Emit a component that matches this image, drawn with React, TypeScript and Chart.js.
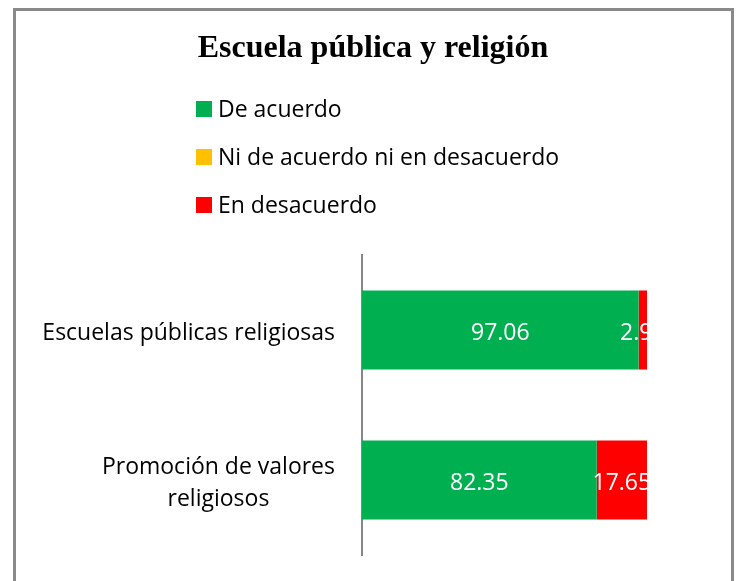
import React, { useEffect, useRef } from "react";
import { Chart, registerables } from "chart.js";

Chart.register(...registerables);

const categories: string[][] = [
  ["Escuelas públicas religiosas"],
  ["Promoción de valores", "religiosos"],
];
const seriesNames = ["De acuerdo", "Ni de acuerdo ni en desacuerdo", "En desacuerdo"];
const deAcuerdo = [97.06, 82.35];
const niDeAcuerdo = [0, 0];
const enDesacuerdo = [2.94, 17.65];
const seriesColors = ["#00B050", "#FFC000", "#FF0000"];
const titleText = "Escuela pública y religión";
const xMin = 0;
const xMax = 100;

const SANS = '"Open Sans", sans-serif';

const customLegend = {
  id: "customLegend",
  afterDraw(chart: any) {
    const ctx = chart.ctx;
    ctx.save();
    ctx.font = `23px ${SANS}`;
    ctx.textBaseline = "alphabetic";
    ctx.textAlign = "left";
    chart.data.datasets.forEach((ds: any, i: number) => {
      const baseline = 117 + i * 48;
      ctx.fillStyle = ds.backgroundColor;
      ctx.fillRect(196, baseline - 16, 16, 16);
      ctx.fillStyle = "#000";
      ctx.fillText(ds.label, 218, baseline);
    });
    ctx.restore();
  },
};

const categoryLabels = {
  id: "categoryLabels",
  afterDraw(chart: any) {
    const ctx = chart.ctx;
    const y = chart.scales.y;
    ctx.save();
    ctx.font = `23px ${SANS}`;
    ctx.fillStyle = "#000";
    ctx.textBaseline = "alphabetic";
    ctx.textAlign = "center";
    const lh = 32;
    (chart.data.labels as string[][]).forEach((lines, i) => {
      const cy = y.getPixelForValue(i);
      const blockW = Math.max(...lines.map((l) => ctx.measureText(l).width));
      const right = chart.chartArea.left - 27;
      const first = cy + 10 - ((lines.length - 1) * lh) / 2;
      lines.forEach((l, k) => ctx.fillText(l, right - blockW / 2, first + k * lh));
    });
    ctx.restore();
  },
};

const dataLabels = {
  id: "dataLabels",
  afterDatasetsDraw(chart: any) {
    const ctx = chart.ctx;
    const area = chart.chartArea;
    ctx.save();
    ctx.beginPath();
    ctx.rect(area.left, area.top, area.right - area.left, area.bottom - area.top);
    ctx.clip();
    ctx.font = `23px ${SANS}`;
    ctx.fillStyle = "#fff";
    ctx.textAlign = "center";
    ctx.textBaseline = "alphabetic";
    chart.data.datasets.forEach((ds: any, di: number) => {
      const meta = chart.getDatasetMeta(di);
      meta.data.forEach((el: any, i: number) => {
        const v = ds.data[i];
        if (!v) return;
        const cx = (el.x + el.base) / 2;
        ctx.fillText(String(v), cx, el.y + 10);
      });
    });
    ctx.restore();
  },
};

export default function App() {
  const ref = useRef<HTMLCanvasElement>(null);

  useEffect(() => {
    if (!ref.current) return;
    const values = [deAcuerdo, niDeAcuerdo, enDesacuerdo];
    const chart = new Chart(ref.current, {
      type: "bar",
      data: {
        labels: categories as any,
        datasets: seriesNames.map((name, i) => ({
          label: name,
          data: values[i],
          backgroundColor: seriesColors[i],
          borderWidth: 0,
          barPercentage: 0.527,
          categoryPercentage: 1,
        })),
      },
      options: {
        indexAxis: "y",
        responsive: false,
        animation: false,
        layout: { padding: { left: 99, right: 91, top: 0, bottom: 26 } },
        plugins: {
          legend: { display: false },
          tooltip: { enabled: false },
          title: {
            display: true,
            text: titleText,
            color: "#000",
            font: { family: '"Liberation Serif", serif', size: 32, weight: "bold" },
            padding: { top: 30, bottom: 186.6 },
          },
        },
        scales: {
          x: { stacked: true, display: false, min: xMin, max: xMax },
          y: {
            stacked: true,
            grid: { display: false },
            ticks: { display: false },
            border: { display: true, color: "#868686", width: 2 },
            afterFit: (s: any) => {
              s.width = 263;
            },
          },
        },
      },
      plugins: [customLegend, categoryLabels, dataLabels],
    });
    return () => chart.destroy();
  }, []);

  return (
    <div
      style={{
        position: "fixed",
        left: 0,
        top: 0,
        width: 738,
        height: 581,
        overflow: "hidden",
        background: "#fff",
      }}
    >
      <div
        style={{
          position: "absolute",
          left: 13,
          top: 8,
          width: 715,
          height: 600,
          border: "3px solid #8a8a8a",
        }}
      />
      <canvas
        ref={ref}
        width={738}
        height={581}
        style={{ position: "absolute", left: 0, top: 0, width: 738, height: 581 }}
      />
    </div>
  );
}
